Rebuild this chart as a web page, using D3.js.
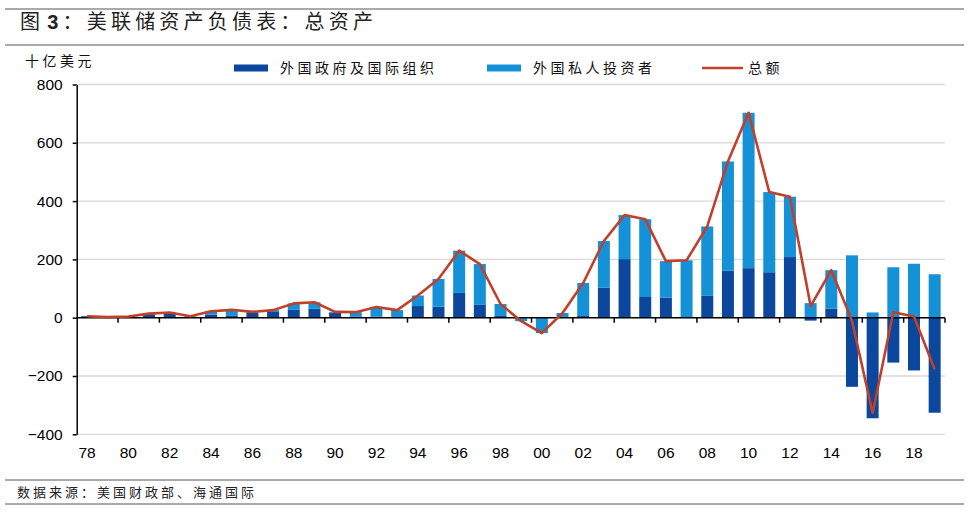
<!DOCTYPE html>
<html><head><meta charset="utf-8">
<script src="https://cdn.jsdelivr.net/npm/d3@7/dist/d3.min.js"></script>
<style>
body{margin:0;background:#fff;}
svg{display:block;}
</style></head>
<body><svg id="c" width="969" height="514"></svg>
<script>
const years = d3.range(1978, 2020);
const govIntl = [5,1,3,12,14,3,10,8,17,22,27,31,18,3,4,2,40,38,85,44,6,-2,-3,2,6,103,201,71,69,0,75,161,170,156,208,-10,31,-237,-345,-154,-181,-326];
const privateInv = [0,1,1,2,4,2,12,19,3,4,22,22,2,16,33,24,36,95,145,140,41,-10,-50,14,113,160,151,267,125,197,238,375,533,275,207,50,132,214,18,173,185,149];
const total = [5,2,4,14,18,5,22,27,20,26,49,53,20,19,37,26,76,133,230,184,47,-12,-53,16,119,263,352,338,194,197,313,536,703,431,415,40,163,-10,-327,19,4,-177];
const yTicks = [-400,-200,0,200,400,600,800];
const seriesNames = ["外国政府及国际组织","外国私人投资者","总额"];
const colors = ["#0b479c","#1591d7","#c1402a"];

const svg = d3.select("#c");
const cjk = "'Noto Sans CJK SC','Noto Sans',sans-serif";
const latin = "'Liberation Sans',Arial,sans-serif";

// frame lines
[9,45,480,504].forEach(y=>svg.append("line").attr("x1",5).attr("x2",964).attr("y1",y).attr("y2",y).attr("stroke","#555").attr("stroke-width",1));
const title = svg.append("text").attr("x",20).attr("y",29).attr("font-family",cjk).attr("font-size",20).attr("letter-spacing",4.2).attr("fill","#222");
title.append("tspan").text("图");
title.append("tspan").attr("font-family",latin).attr("font-weight","bold").attr("dx",3).text("3");
title.append("tspan").text("：美联储资产负债表：总资产");
svg.append("text").attr("x",17).attr("y",497).attr("font-family",cjk).attr("font-size",13).attr("letter-spacing",3).attr("fill","#222").text("数据来源：美国财政部、海通国际");
svg.append("text").attr("x",25).attr("y",66).attr("font-family",cjk).attr("font-size",14).attr("letter-spacing",3.5).attr("fill","#111").text("十亿美元");

const x = d3.scaleBand().domain(years).range([76.7,945]).paddingInner(0.42).paddingOuter(0.21);
const y = d3.scaleLinear().domain([-400,800]).range([434.3,84.5]);

// gridlines
svg.append("g").selectAll("line").data(yTicks).join("line")
  .attr("x1",76.7).attr("x2",945).attr("y1",d=>y(d)).attr("y2",d=>y(d))
  .attr("stroke","#d9d9d9").attr("stroke-width",1.3);

// stacked bars (diverging)
const rows = years.map((yr,i)=>({year:yr, gov:govIntl[i], priv:privateInv[i]}));
const stack = d3.stack().keys(["gov","priv"]).offset(d3.stackOffsetDiverging);
const layers = stack(rows);
svg.append("g").selectAll("g").data(layers).join("g").attr("fill",(d,i)=>colors[i])
  .selectAll("rect").data(d=>d).join("rect")
  .attr("x",d=>x(d.data.year)).attr("width",x.bandwidth())
  .attr("y",d=>y(Math.max(d[0],d[1]))).attr("height",d=>Math.abs(y(d[0])-y(d[1])));

// y axis
const yAxis = d3.axisLeft(y).tickValues(yTicks).tickSize(4).tickSizeOuter(0).tickPadding(10);
const ga = svg.append("g").attr("transform","translate(76.7,0)").call(yAxis);
ga.select(".domain").attr("stroke","#000").attr("stroke-width",1.5);
ga.selectAll(".tick line").attr("stroke","#000").attr("stroke-width",1.5);
ga.selectAll("text").attr("font-family",latin).attr("font-size",15.5).attr("fill","#000");

// x axis at zero
const step = x.step();
const x0 = x.range()[0];
const tickPos = d3.range(2,43,2).map(k=>x0 + k*step);
const gx = svg.append("g");
gx.append("line").attr("x1",76.7).attr("x2",945).attr("y1",y(0)).attr("y2",y(0)).attr("stroke","#000").attr("stroke-width",1.5);
gx.selectAll("line.t").data(tickPos).join("line").attr("class","t")
  .attr("x1",d=>d).attr("x2",d=>d).attr("y1",y(0)).attr("y2",y(0)+5).attr("stroke","#000").attr("stroke-width",1.5);
gx.selectAll("text").data(years.filter(v=>v%2===0)).join("text")
  .attr("x",d=>x(d)+x.bandwidth()/2).attr("y",458).attr("text-anchor","middle")
  .attr("font-family",latin).attr("font-size",15.5).attr("fill","#000")
  .text(d=>String(d%100).padStart(2,"0"));

// total line
const line = d3.line().x((d,i)=>x(years[i])+x.bandwidth()/2).y(d=>y(d));
svg.append("path").datum(total).attr("d",line).attr("fill","none").attr("stroke",colors[2]).attr("stroke-width",2.6).attr("stroke-linejoin","round");

// legend
const lg = svg.append("g");
const leg = [{x:234,t:0},{x:487,t:1},{x:702,t:2}];
leg.forEach(l=>{
  if(l.t<2) lg.append("rect").attr("x",l.x).attr("y",64.5).attr("width",34).attr("height",7).attr("fill",colors[l.t]);
  else lg.append("line").attr("x1",l.x).attr("x2",l.x+41).attr("y1",68).attr("y2",68).attr("stroke",colors[2]).attr("stroke-width",2.6);
  lg.append("text").attr("x",l.x+46).attr("y",73).attr("font-family",cjk).attr("font-size",14).attr("letter-spacing",3.5).attr("fill","#111").text(seriesNames[l.t]);
});
</script></body></html>
